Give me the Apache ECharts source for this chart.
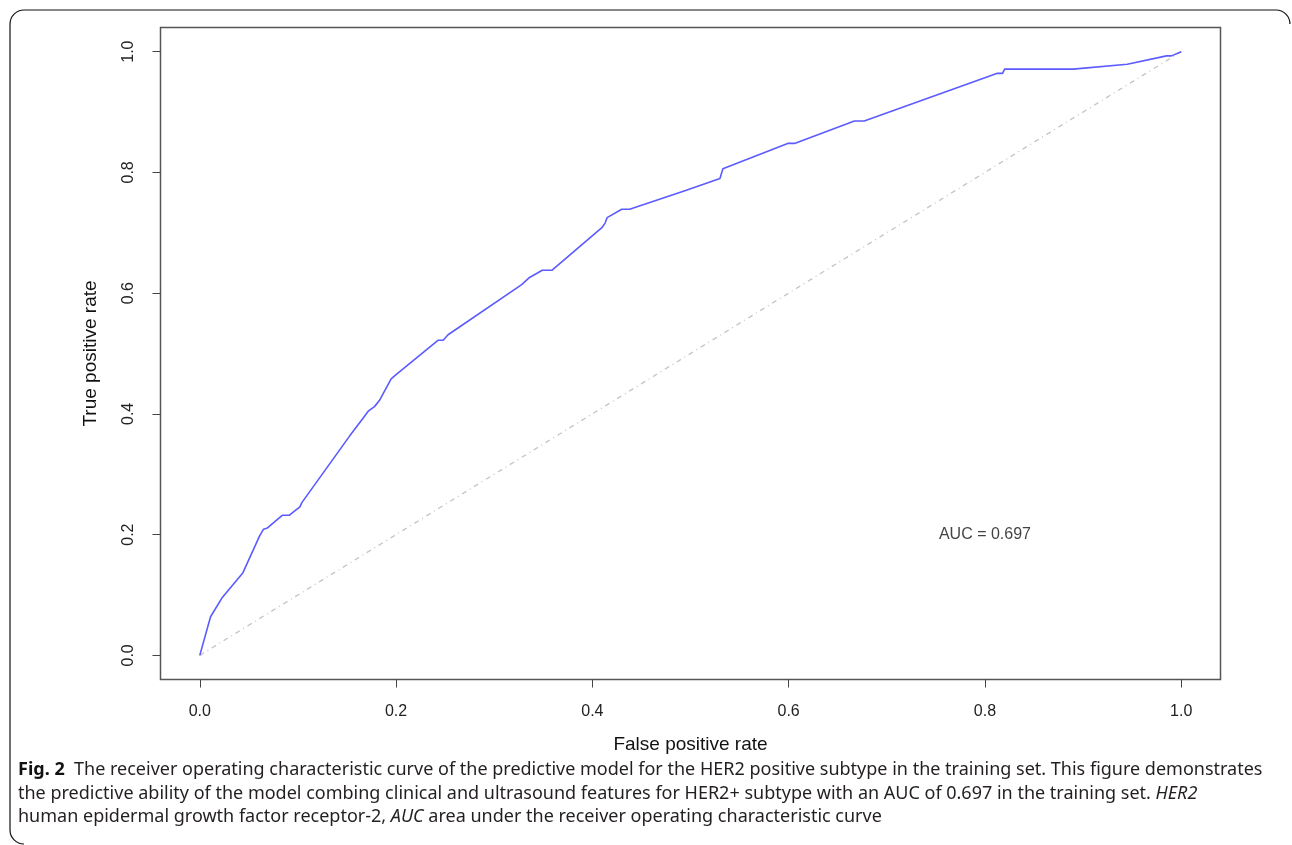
<!DOCTYPE html>
<html>
<head>
<meta charset="utf-8">
<script src="https://cdn.jsdelivr.net/npm/echarts@6/dist/echarts.min.js"></script>
<style>
html,body{margin:0;padding:0;background:#fff;}
#chart{width:1292px;height:845px;}
</style>
</head>
<body>
<div id="chart"></div>
<script>
// ROC curve points (false positive rate, true positive rate)
const fpr = [0, 0.011, 0.023, 0.044, 0.061, 0.065, 0.069, 0.084, 0.091, 0.102, 0.104, 0.153, 0.166, 0.168, 0.172, 0.178, 0.183, 0.195, 0.200, 0.243, 0.248, 0.253, 0.328, 0.336, 0.349, 0.359, 0.410, 0.413, 0.415, 0.430, 0.438, 0.495, 0.530, 0.533, 0.599, 0.606, 0.667, 0.677, 0.812, 0.818, 0.820, 0.890, 0.945, 0.985, 0.990, 1.0];
const tpr = [0, 0.064, 0.096, 0.137, 0.198, 0.209, 0.211, 0.232, 0.232, 0.246, 0.253, 0.364, 0.392, 0.395, 0.405, 0.412, 0.422, 0.458, 0.465, 0.522, 0.522, 0.531, 0.614, 0.626, 0.638, 0.638, 0.709, 0.716, 0.725, 0.739, 0.739, 0.770, 0.790, 0.806, 0.848, 0.848, 0.885, 0.885, 0.964, 0.964, 0.971, 0.971, 0.979, 0.993, 0.993, 1.0];
const diagX = [0, 1];
const diagY = [0, 1];
const tickValues = [0, 0.2, 0.4, 0.6, 0.8, 1.0];
const axisRange = [-0.04, 1.04];
const aucText = 'AUC = 0.697';
const aucPos = [0.8, 0.2];
const xTitle = 'False positive rate';
const yTitle = 'True positive rate';

const chart = echarts.init(document.getElementById('chart'));
const axisFont = 'Liberation Sans, Arial, sans-serif';
const capFont = 'Noto Sans, sans-serif';
const frame = {stroke: '#111', lineWidth: 1.2, fill: 'none'};
const capColor = '#231f20';

function axisCommon() {
  return {
    type: 'value', min: axisRange[0], max: axisRange[1],
    axisLine: {show: false, onZero: false},
    axisTick: {show: true, length: 8, customValues: tickValues, lineStyle: {color: '#444', width: 1}},
    splitLine: {show: false},
    axisLabel: {margin: 24, customValues: tickValues, color: '#222', fontFamily: axisFont, fontSize: 16,
      formatter: v => Number(v).toFixed(1)}
  };
}

chart.setOption({
  animation: false,
  backgroundColor: '#fff',
  grid: {left: 160.5, top: 27.5, width: 1060, height: 652, containLabel: false},
  xAxis: Object.assign(axisCommon(), {
    name: xTitle, nameLocation: 'middle', nameGap: 56,
    nameTextStyle: {fontFamily: axisFont, fontSize: 19, color: '#111'}
  }),
  yAxis: Object.assign(axisCommon(), {
    axisLabel: Object.assign(axisCommon().axisLabel, {rotate: 90}),
    name: yTitle, nameLocation: 'middle', nameGap: 60, nameRotate: 90,
    nameTextStyle: {fontFamily: axisFont, fontSize: 19, color: '#111'}
  }),
  series: [
    {
      type: 'line', data: diagX.map((x, i) => [x, diagY[i]]), symbol: 'none',
      lineStyle: {color: '#c4c4c4', width: 1.3, type: [5, 4, 1, 4]}, silent: true, z: 1
    },
    {
      type: 'line', data: fpr.map((x, i) => [x, tpr[i]]), symbol: 'none',
      lineStyle: {color: '#5b5bff', width: 1.6}, z: 2
    },
    {
      type: 'scatter', data: [aucPos], symbolSize: 0,
      label: {show: true, position: 'inside', formatter: aucText, fontFamily: axisFont, fontSize: 16, color: '#111'}
    }
  ],
  graphic: [
    {type: 'rect', shape: {x: 160.5, y: 27.5, width: 1060, height: 652}, style: {fill: 'none', stroke: '#555', lineWidth: 1.5}, silent: true},
    {type: 'line', shape: {x1: 24, y1: 10, x2: 1276, y2: 10}, style: frame, silent: true},
    {type: 'line', shape: {x1: 10, y1: 24, x2: 10, y2: 830}, style: frame, silent: true},
    {type: 'arc', shape: {cx: 24, cy: 24, r: 14, startAngle: Math.PI, endAngle: Math.PI * 1.5}, style: frame, silent: true},
    {type: 'arc', shape: {cx: 1276, cy: 24, r: 14, startAngle: Math.PI * 1.5, endAngle: Math.PI * 2}, style: frame, silent: true},
    {type: 'arc', shape: {cx: 24, cy: 830, r: 14, startAngle: Math.PI * 0.5, endAngle: Math.PI}, style: frame, silent: true},
    {type: 'text', left: 18, top: 761, style: {
      text: '{b|Fig. 2}  The receiver operating characteristic curve of the predictive model for the HER2 positive subtype in the training set. This figure demonstrates',
      font: '18px ' + capFont, fill: capColor,
      rich: {b: {fontWeight: 'bold', fontSize: 18, fontFamily: capFont, fill: '#111'}}
    }},
    {type: 'text', left: 18, top: 785, style: {
      text: 'the predictive ability of the model combing clinical and ultrasound features for HER2+ subtype with an AUC of 0.697 in the training set. {i|HER2}',
      font: '18px ' + capFont, fill: capColor,
      rich: {i: {fontStyle: 'italic', fontSize: 18, fontFamily: capFont}}
    }},
    {type: 'text', left: 18, top: 808, style: {
      text: 'human epidermal growth factor receptor-2, {i|AUC} area under the receiver operating characteristic curve',
      font: '18px ' + capFont, fill: capColor,
      rich: {i: {fontStyle: 'italic', fontSize: 18, fontFamily: capFont}}
    }}
  ]
});
</script>
</body>
</html>
